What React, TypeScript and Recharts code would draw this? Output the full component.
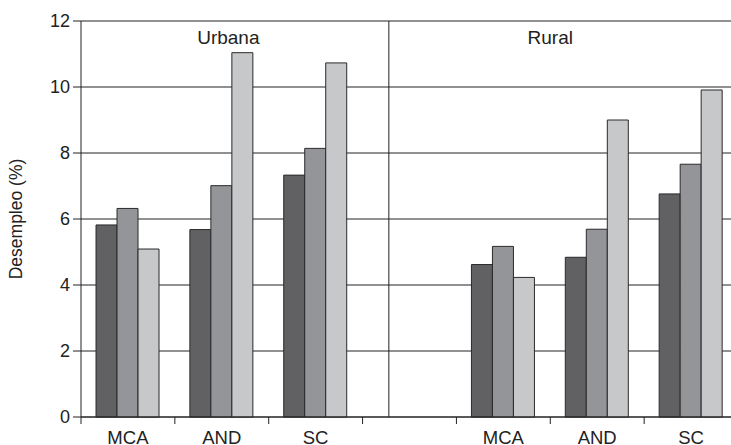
import { BarChart, Bar, XAxis, YAxis, CartesianGrid, ReferenceLine } from 'recharts'

// categories along the bottom; the empty one is the gap between Urbana and Rural
const categories = ['MCA', 'AND', 'SC', '', 'MCA', 'AND', 'SC']
const serie1 = [5.82, 5.68, 7.33, null, 4.62, 4.84, 6.76]
const serie2 = [6.32, 7.01, 8.14, null, 5.17, 5.69, 7.66]
const serie3 = [5.09, 11.04, 10.73, null, 4.23, 9.0, 9.91]
const yTicks = [0, 2, 4, 6, 8, 10, 12]
const slotTicks = [0, 1, 2, 3, 4, 5, 6, 7]
const groupLabels = [
  { name: 'Urbana', at: 1.57 },
  { name: 'Rural', at: 5.0 },
]
const dividerAt = 3.28

const data = categories.map((cat, i) => ({
  cat,
  slot: i + 0.5,
  s1: serie1[i],
  s2: serie2[i],
  s3: serie3[i],
}))

const FONT = '"Liberation Sans", Arial, Helvetica, sans-serif'
const INK = '#222222'

export default function App() {
  return (
    <div
      style={{
        position: 'fixed',
        left: 0,
        top: 0,
        width: 731,
        height: 445,
        overflow: 'hidden',
        background: '#ffffff',
        fontFamily: FONT,
      }}
    >
      <BarChart
        width={745}
        height={445}
        data={data}
        margin={{ top: 21, right: 7, bottom: 0, left: 0 }}
        barCategoryGap="16%"
        barGap={0}
      >
        <CartesianGrid xAxisId="b" vertical={false} stroke={INK} strokeWidth={1} />
        <XAxis
          xAxisId="a"
          dataKey="slot"
          type="number"
          domain={[0, 7]}
          allowDataOverflow
          ticks={slotTicks}
          tickFormatter={() => ''}
          tickSize={7}
          height={8}
          stroke={INK}
          axisLine={{ stroke: INK }}
          tickLine={{ stroke: INK }}
        />
        <XAxis
          xAxisId="b"
          dataKey="cat"
          axisLine={false}
          tickLine={false}
          tickSize={0}
          tickMargin={6}
          height={20}
          interval={0}
          tick={{ fontSize: 18.5, fill: INK, fontFamily: FONT }}
        />
        <YAxis
          domain={[0, 12]}
          ticks={yTicks}
          width={81}
          tickSize={8}
          tickMargin={3}
          stroke={INK}
          tick={{ fontSize: 18, fill: INK, fontFamily: FONT }}
          label={{
            value: 'Desempleo (%)',
            angle: -90,
            position: 'insideLeft',
            offset: 16,
            style: { fontSize: 17.5, fill: INK, fontFamily: FONT, textAnchor: 'middle' },
          }}
        />
        <ReferenceLine xAxisId="a" x={dividerAt} stroke={INK} strokeWidth={1} />
        {groupLabels.map((g) => (
          <ReferenceLine
            key={g.name}
            xAxisId="a"
            x={g.at}
            stroke="none"
            label={{
              value: g.name,
              position: 'insideTop',
              offset: 10,
              style: { fontSize: 19, fill: INK, fontFamily: FONT },
            }}
          />
        ))}
        <Bar xAxisId="b" dataKey="s1" fill="#616163" stroke="#2a2a2a" strokeWidth={1} isAnimationActive={false} />
        <Bar xAxisId="b" dataKey="s2" fill="#949598" stroke="#2a2a2a" strokeWidth={1} isAnimationActive={false} />
        <Bar xAxisId="b" dataKey="s3" fill="#c7c8ca" stroke="#2a2a2a" strokeWidth={1} isAnimationActive={false} />
      </BarChart>
    </div>
  )
}
